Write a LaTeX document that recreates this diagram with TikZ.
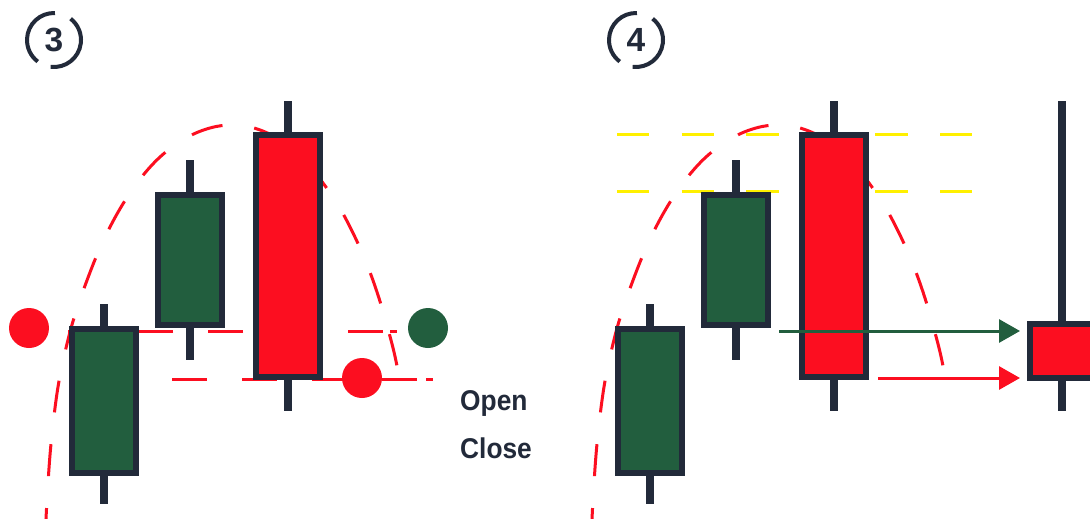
\documentclass[tikz,border=0pt]{standalone}
\usepackage{fontspec}
\newfontfamily\numfont{Liberation Sans}
\newfontfamily\txtfont[FakeStretch=0.92]{Liberation Sans}
\usetikzlibrary{arrows.meta}
\definecolor{cnavy}{RGB}{34,42,58}
\definecolor{cgreen}{RGB}{34,94,62}
\definecolor{cred}{RGB}{252,14,32}
\definecolor{cyellow}{RGB}{255,240,0}
\begin{document}
\begin{tikzpicture}[x=1pt,y=-1pt,
  body/.style={draw=cnavy,line width=6pt,inner sep=0pt,minimum width=64pt},
  wick/.style={draw=cnavy,line width=8pt},
  rdash/.style={draw=cred,line width=3pt,dash pattern=on 35pt off 35pt},
  rsolid/.style={draw=cred,line width=3pt},
  arcdash/.style={draw=cred,line width=3pt,dash pattern=on 32pt off 32pt},
  ydash/.style={draw=cyellow,line width=3pt,dash pattern=on 32.3pt off 32.3pt},
  dot/.style={circle,inner sep=0pt,minimum size=40pt},
  ring/.style={draw=cnavy,line width=4pt},
  numlbl/.style={text=cnavy,font=\numfont\bfseries\fontsize{33.5}{34}\selectfont,inner sep=0pt},
  txt/.style={text=cnavy,font=\txtfont\bfseries\fontsize{28.6}{30}\selectfont,inner sep=0pt,anchor=base west},
  arr/.style={line width=3pt,-{Triangle[length=21pt,width=23pt]}}
]
\useasboundingbox (0,0) rectangle (1090,519);
\clip (0,0) rectangle (1090,519);
\fill[white] (0,0) rectangle (1090,519);

% ---------- panel 3 ----------
\node[numlbl] (n3) at (54,40) {3};
\draw[ring] (n3.center) ++(88:27pt) arc[start angle=88,end angle=233,radius=27pt];
\draw[ring] (n3.center) ++(-97:27pt) arc[start angle=-97,end angle=52,radius=27pt];

\draw[arcdash] plot[smooth,tension=0.6] coordinates {(45,540) (47,500) (50,455) (54,416) (59,381) (66,348) (74,318) (86,283) (100,248) (117,214) (137,183) (160,157) (186,138) (210,128) (232,125) (254,128) (277,138) (300,155) (320,179) (338,205) (353,233) (366,262) (377,292) (386,322) (394,352) (400,381)};

\draw[rdash] (383,331) -- (20,331);
\draw[rsolid] (390,331) -- (397,331);
\draw[rdash] (172,379) -- (418,379);
\draw[rsolid] (426,379) -- (433,379);

\draw[wick] (104,304) -- (104,504);
\draw[wick] (190,160) -- (190,360);
\draw[wick] (288,101) -- (288,411);
\node[body,fill=cgreen,minimum height=144pt] (a3) at (104,401) {};
\node[body,fill=cgreen,minimum height=130pt] (b3) at (190,260) {};
\node[body,fill=cred,minimum height=242pt] (c3) at (288,256) {};

\node[dot,fill=cred] (d1) at (29,328) {};
\node[dot,fill=cgreen] (d2) at (428,328) {};
\node[dot,fill=cred] (d3) at (362,378) {};

\node[txt] (open) at (460,410) {Open};
\node[txt] (close) at (460,458) {Close};

% ---------- panel 4 ----------
\node[numlbl] (n4) at (636,40) {4};
\draw[ring] (n4.center) ++(88:27pt) arc[start angle=88,end angle=233,radius=27pt];
\draw[ring] (n4.center) ++(-97:27pt) arc[start angle=-97,end angle=52,radius=27pt];

\draw[ydash] (617,134) -- (972,134);
\draw[ydash] (617,191) -- (972,191);

\begin{scope}[shift={(546,0)}]
\draw[arcdash] plot[smooth,tension=0.6] coordinates {(45,540) (47,500) (50,455) (54,416) (59,381) (66,348) (74,318) (86,283) (100,248) (117,214) (137,183) (160,157) (186,138) (210,128) (232,125) (254,128) (277,138) (300,155) (320,179) (338,205) (353,233) (366,262) (377,292) (386,322) (394,352) (400,381)};
\end{scope}

\draw[wick] (650,304) -- (650,504);
\draw[wick] (736,160) -- (736,360);
\draw[wick] (834,101) -- (834,411);
\draw[wick] (1062,101) -- (1062,411);
\node[body,fill=cgreen,minimum height=144pt] (a4) at (650,401) {};
\node[body,fill=cgreen,minimum height=130pt] (b4) at (736,260) {};
\node[body,fill=cred,minimum height=242pt] (c4) at (834,256) {};
\node[body,fill=cred,minimum height=54pt] (d4) at (1062,351) {};

\coordinate (g0) at (779,331);
\coordinate (g1) at (1020,331);
\coordinate (r0) at (878,378);
\coordinate (r1) at (1020,378);
\draw[arr,cgreen] (g0) -- (g1);
\draw[arr,cred] (r0) -- (r1);
\end{tikzpicture}
\end{document}
